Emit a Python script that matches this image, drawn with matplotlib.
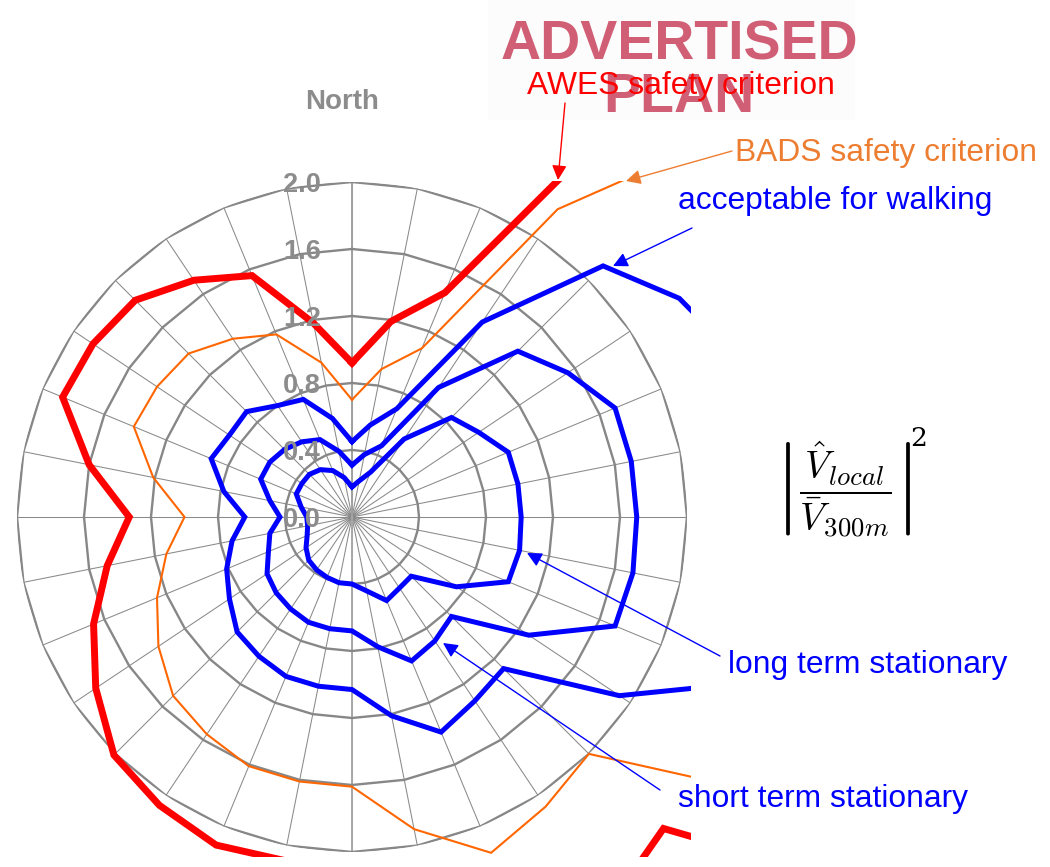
import numpy as np
import matplotlib.pyplot as plt
from matplotlib.patches import FancyArrowPatch, Rectangle
from matplotlib.transforms import IdentityTransform

# wind directions (degrees clockwise from North), 32 sectors
directions_deg = [0, 11.25, 22.5, 33.75, 45, 56.25, 67.5, 78.75,
                  90, 101.25, 112.5, 123.75, 135, 146.25, 157.5, 168.75,
                  180, 191.25, 202.5, 213.75, 225, 236.25, 247.5, 258.75,
                  270, 281.25, 292.5, 303.75, 315, 326.25, 337.5, 348.75]

# |V_local / V_300m|^2 per direction (values past the frame are estimates)
awes = [0.92, 1.19, 1.45, 2.82, 3.4, 3.5, 3.5, 3.5, 3.5, 3.5, 3.6, 4.2,
        2.63, 2.78, 2.5, 2.2, 2.1, 2.09, 2.12, 2.07, 2.01, 1.84, 1.67, 1.49,
        1.33, 1.60, 1.87, 1.86, 1.83, 1.70, 1.56, 1.18]
bads = [0.70, 0.90, 1.09, 2.21, 3.28, 3.2, 3.2, 3.2, 3.2, 3.2, 3.2, 2.97,
        2.00, 2.08, 2.17, 1.90, 1.61, 1.61, 1.61, 1.56, 1.51, 1.39, 1.26, 1.13,
        1.00, 1.21, 1.41, 1.40, 1.38, 1.28, 1.18, 0.94]
walking = [0.45, 0.56, 0.70, 1.40, 2.12, 2.35, 2.49, 2.6, 2.6, 2.6, 2.58, 1.92,
           1.28, 1.32, 1.39, 1.21, 1.03, 1.03, 1.03, 1.00, 0.97, 0.88, 0.81, 0.73,
           0.64, 0.78, 0.91, 0.88, 0.89, 0.80, 0.76, 0.60]
short_term = [0.31, 0.38, 0.46, 0.93, 1.40, 1.55, 1.70, 1.70, 1.70, 1.71, 1.70, 1.27,
              0.84, 0.89, 0.93, 0.79, 0.68, 0.68, 0.68, 0.66, 0.64, 0.61, 0.54, 0.50,
              0.43, 0.50, 0.59, 0.59, 0.57, 0.54, 0.50, 0.40]
long_term = [0.18, 0.22, 0.29, 0.56, 0.84, 0.91, 1.01, 1.01, 1.01, 1.02, 1.01, 0.75,
             0.50, 0.51, 0.54, 0.45, 0.40, 0.40, 0.39, 0.38, 0.365, 0.33, 0.29, 0.27,
             0.27, 0.31, 0.36, 0.36, 0.36, 0.34, 0.30, 0.24]

ring_values = [0.4, 0.8, 1.2, 1.6, 2.0]
tick_labels = ['0.0', '0.4', '0.8', '1.2', '1.6', '2.0']

W, H = 1050, 867
fig = plt.figure(figsize=(W / 100, H / 100), dpi=100)

# radar centre and 2.0-ring radius in pixels (measured from the top)
cx, cy, R = 352, 517, 335
ax = fig.add_axes([(cx - R) / W, (H - cy - R) / H, 2 * R / W, 2 * R / H],
                  projection='polar')
ax.set_theta_zero_location('N')
ax.set_theta_direction(-1)
ax.set_ylim(0, 2.0)
ax.axis('off')

theta = np.deg2rad(directions_deg)
th_closed = np.append(theta, theta[0])

# polygon grid like an Excel radar chart
for t in theta:
    ax.plot([t, t], [0, 2.0], color='#8a8a8a', lw=0.75, zorder=1)
ax.plot([0, 0], [0, 2.0], color='#a0a0a0', lw=1.4, zorder=1)
ax.plot([np.pi, np.pi], [0, 2.0], color='#a8a8a8', lw=1.4, zorder=1)
for v in ring_values:
    ax.plot(th_closed, [v] * len(th_closed), color='#878787', lw=1.7, zorder=2)

# the chart is cut off by the picture frame
clip_rect = Rectangle((0, (H - 857) / H), 691 / W, (857 - 181) / H,
                      transform=fig.transFigure)

series = [(awes, '#ff0000', 5.0), (bads, '#ff6600', 1.5),
          (walking, '#0000ff', 3.6), (short_term, '#0000ff', 3.6),
          (long_term, '#0000ff', 3.6)]
for vals, col, lw in series:
    ln, = ax.plot(th_closed, vals + [vals[0]], color=col, lw=lw, zorder=4,
                  solid_joinstyle='miter')
    ln.set_clip_path(clip_rect)

for lab in tick_labels:
    ax.annotate(lab, xy=(0, float(lab)), xytext=(-31, -10),
                textcoords='offset pixels', ha='right', va='baseline',
                color='#8c8c8c', fontsize=19.5, fontweight='bold',
                family='Liberation Sans', zorder=10, annotation_clip=False)


def fx(x):
    return x / W


def fy(y):
    return 1 - y / H


fig.text(fx(342), fy(109), 'North', ha='center', va='baseline',
         color='#8c8c8c', fontsize=20, fontweight='bold', family='Liberation Sans')

# stamp
fig.patches.append(Rectangle((fx(488), fy(120)), (855 - 488) / W, 120 / H,
                             transform=fig.transFigure, facecolor='#fcfcfc',
                             edgecolor='none', zorder=0))
fig.text(fx(679), fy(60), 'ADVERTISED', ha='center', va='baseline',
         color='#cc4d66', fontsize=40, fontweight='bold', family='Liberation Sans',
         alpha=0.9)
fig.text(fx(679), fy(112), 'PLAN', ha='center', va='baseline',
         color='#cc4d66', fontsize=40, fontweight='bold', family='Liberation Sans',
         alpha=0.9)

# callouts
notes = [
    ('AWES safety criterion', '#ff0000', 527, 94, (565, 103), (558, 180)),
    ('BADS safety criterion', '#ed7d31', 735, 161, (732, 151), (626, 181)),
    ('acceptable for walking', '#0000ff', 678, 209, (692, 228), (613, 266)),
    ('long term stationary', '#0000ff', 728, 673, (720, 656), (527, 553)),
    ('short term stationary', '#0000ff', 678, 807, (660, 790), (443, 643)),
]
for txt, col, tx, ty, p0, p1 in notes:
    fig.text(fx(tx), fy(ty), txt, ha='left', va='baseline', color=col,
             fontsize=22.9, family='Liberation Sans', zorder=6)
    arr = FancyArrowPatch((p0[0], H - p0[1]), (p1[0], H - p1[1]),
                          arrowstyle='-|>', mutation_scale=22, color=col, lw=1.0,
                          shrinkA=0, shrinkB=0, transform=IdentityTransform())
    fig.add_artist(arr)

fig.text(fx(843), fy(490), r'$\left|\dfrac{\hat{V}_{local}}{\bar{V}_{300m}}\right|$',
         ha='center', va='center', fontsize=27.5, math_fontfamily='cm')
fig.text(fx(910), fy(446), '2', ha='left', va='baseline', fontsize=19,
         family='DejaVu Serif')

fig.savefig('out.png', dpi=100)
